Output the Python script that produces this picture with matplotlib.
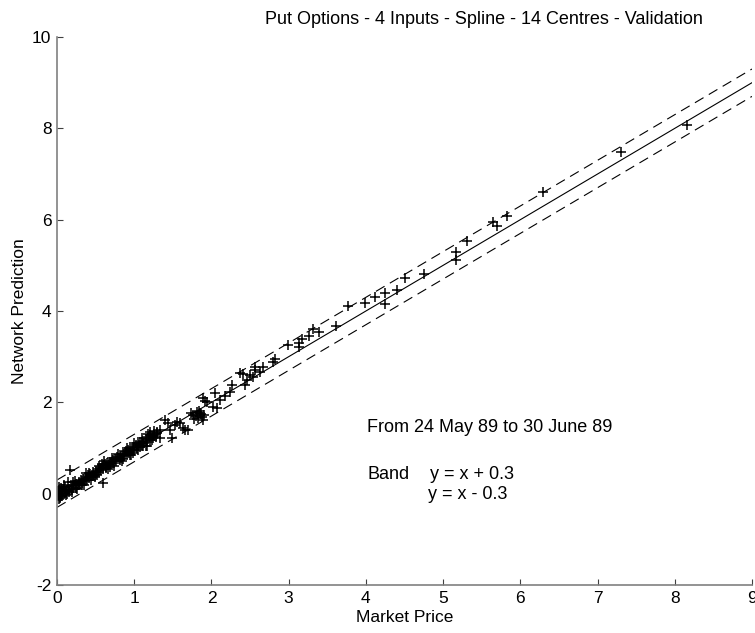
import matplotlib
matplotlib.use("Agg")
import matplotlib.pyplot as plt

plt.rcParams["font.family"] = ["Liberation Sans", "DejaVu Sans"]
plt.rcParams["axes.unicode_minus"] = False

# market price vs network prediction
market = [
    # dense band near the origin
    0.01, 0.02, 0.03, 0.04, 0.05, 0.06, 0.07, 0.08, 0.10, 0.11, 0.12, 0.13, 0.15, 0.16,
    0.18, 0.19, 0.21, 0.22, 0.24, 0.25, 0.27, 0.28, 0.30, 0.31, 0.33, 0.34, 0.36, 0.37,
    0.39, 0.40, 0.42, 0.43, 0.45, 0.46, 0.48, 0.50, 0.51, 0.53, 0.54, 0.56, 0.57, 0.59,
    0.60, 0.62, 0.63, 0.65, 0.67, 0.68, 0.70, 0.72, 0.73, 0.75, 0.77, 0.78, 0.80, 0.82,
    0.83, 0.85, 0.87, 0.88, 0.90, 0.92, 0.93, 0.95, 0.97, 0.98, 1.00, 1.02, 1.03, 1.05,
    1.07, 1.08, 1.10, 1.12, 1.13, 1.15, 1.17, 1.19, 1.20, 1.22, 1.24, 1.26, 1.28, 1.30,
    0.02, 0.05, 0.09, 0.14, 0.20, 0.26, 0.35, 0.44, 0.52, 0.66, 0.74, 0.86, 0.95, 1.05,
    1.15, 0.38, 0.58, 0.79, 1.00, 1.10, 1.18, 1.25, 0.00, 0.03, 0.07, 0.12, 0.23, 0.29,
    0.41, 0.47, 0.55, 0.64, 0.71, 0.81, 0.89, 0.99, 1.11,
    0.04, 0.13, 0.32, 0.49, 0.69, 0.84, 0.96, 1.16, 0.21, 0.61, 0.91, 1.21,
    # outliers near the origin
    0.17, 0.60,
    # mid range
    1.40, 1.44, 1.53, 1.59, 1.63, 1.70, 1.33, 1.29, 1.25, 1.23, 1.33, 1.46, 1.55, 1.49,
    1.66, 1.20, 1.11,
    1.85, 1.81, 1.76, 1.83, 1.88, 1.89, 1.80, 1.86, 1.78, 1.84, 1.90, 1.74, 1.92, 1.94,
    1.89, 2.02, 2.07, 2.05, 2.11, 2.18, 2.24, 2.27, 2.37,
    2.41, 2.44, 2.46, 2.50, 2.54, 2.56, 2.56, 2.63, 2.67, 2.80, 2.82,
    2.99, 3.13, 3.13, 3.17, 3.26, 3.32, 3.39, 3.61, 3.77,
    3.99, 4.12, 4.25, 4.25, 4.40, 4.51, 4.75,
    5.17, 5.17, 5.31, 5.65, 5.70, 5.83, 6.30, 7.30, 8.16,
]
prediction = [
    -0.05, 0.08, 0.00, -0.10, 0.12, 0.03, -0.04, 0.06, 0.15, 0.02, -0.02, 0.09, 0.11, 0.04,
    0.17, 0.08, 0.13, 0.20, 0.12, 0.22, 0.18, 0.26, 0.21, 0.30, 0.24, 0.33, 0.28, 0.36,
    0.31, 0.40, 0.35, 0.43, 0.38, 0.47, 0.42, 0.50, 0.44, 0.54, 0.48, 0.57, 0.51, 0.60,
    0.55, 0.64, 0.58, 0.67, 0.62, 0.70, 0.65, 0.74, 0.68, 0.77, 0.72, 0.81, 0.75, 0.84,
    0.79, 0.88, 0.82, 0.91, 0.86, 0.95, 0.89, 0.98, 0.93, 1.02, 0.96, 1.06, 1.00, 1.09,
    1.03, 1.13, 1.07, 1.16, 1.10, 1.20, 1.14, 1.24, 1.17, 1.27, 1.21, 1.30, 1.25, 1.33,
    -0.12, -0.06, 0.20, 0.25, 0.03, 0.10, 0.18, 0.30, 0.40, 0.55, 0.60, 0.76, 0.85, 0.95,
    1.05, 0.45, 0.66, 0.88, 1.12, 1.22, 1.30, 1.38, 0.05, 0.14, 0.11, 0.06, 0.27, 0.20,
    0.46, 0.39, 0.61, 0.56, 0.78, 0.73, 0.94, 0.90, 1.04,
    -0.08, 0.00, 0.19, 0.36, 0.58, 0.72, 0.84, 1.04, 0.26, 0.71, 0.99, 1.34,
    0.52, 0.23,
    1.61, 1.55, 1.50, 1.55, 1.44, 1.39, 1.39, 1.35, 1.28, 1.17, 1.22, 1.39, 1.57, 1.22,
    1.39, 1.28, 1.11,
    1.77, 1.79, 1.72, 1.66, 1.68, 1.61, 1.70, 1.74, 1.64, 1.81, 1.72, 1.76, 2.03, 2.01,
    2.09, 1.90, 1.88, 2.20, 2.05, 2.14, 2.23, 2.38, 2.64,
    2.62, 2.38, 2.49, 2.60, 2.55, 2.71, 2.77, 2.66, 2.77, 2.88, 2.95,
    3.26, 3.30, 3.21, 3.39, 3.45, 3.61, 3.54, 3.67, 4.11,
    4.17, 4.31, 4.39, 4.15, 4.46, 4.72, 4.81,
    5.29, 5.12, 5.53, 5.95, 5.86, 6.08, 6.61, 7.48, 8.07,
]

band = 0.3
line_x = [0, 9]

fig = plt.figure(figsize=(7.55, 6.33), dpi=100)
ax = fig.add_axes([0.0755, 0.0758, 0.9205, 0.8657])

ax.plot(market, prediction, "k+", markersize=7.5, markeredgewidth=1.1)
ax.plot(line_x, line_x, "k-", lw=0.8)
ax.plot(line_x, [v + band for v in line_x], "k-", lw=0.8, dashes=(9, 5.5))
ax.plot(line_x, [v - band for v in line_x], "k-", lw=0.8, dashes=(9, 5.5))

ax.set_xlim(0, 9)
ax.set_ylim(-2, 10)
ax.set_xticks(range(0, 10))
ax.set_yticks(range(-2, 11, 2))

for side in ["top", "right"]:
    ax.spines[side].set_visible(False)
for side in ["left", "bottom"]:
    ax.spines[side].set_color("#808080")
    ax.spines[side].set_linewidth(1.2)
ax.tick_params(direction="in", length=4, width=0.8, color="#404040",
               labelsize=12.5, pad=4)

ax.set_xlabel("Market Price", fontsize=12.5, labelpad=3)
ax.set_ylabel("Network Prediction", fontsize=12.5, labelpad=4)
fig.text(484 / 755, 1 - 20 / 633, "Put Options - 4 Inputs - Spline - 14 Centres - Validation",
         ha="center", va="center", fontsize=13)

ax.text(4.02, 1.46, "From 24 May 89 to 30 June 89", fontsize=13, va="center")
ax.text(4.02, 0.43, "Band", fontsize=13, va="center")
ax.text(4.83, 0.43, "y = x + 0.3", fontsize=13, va="center")
ax.text(4.81, -0.01, "y = x - 0.3", fontsize=13, va="center")

fig.savefig("out.png", dpi=100)
